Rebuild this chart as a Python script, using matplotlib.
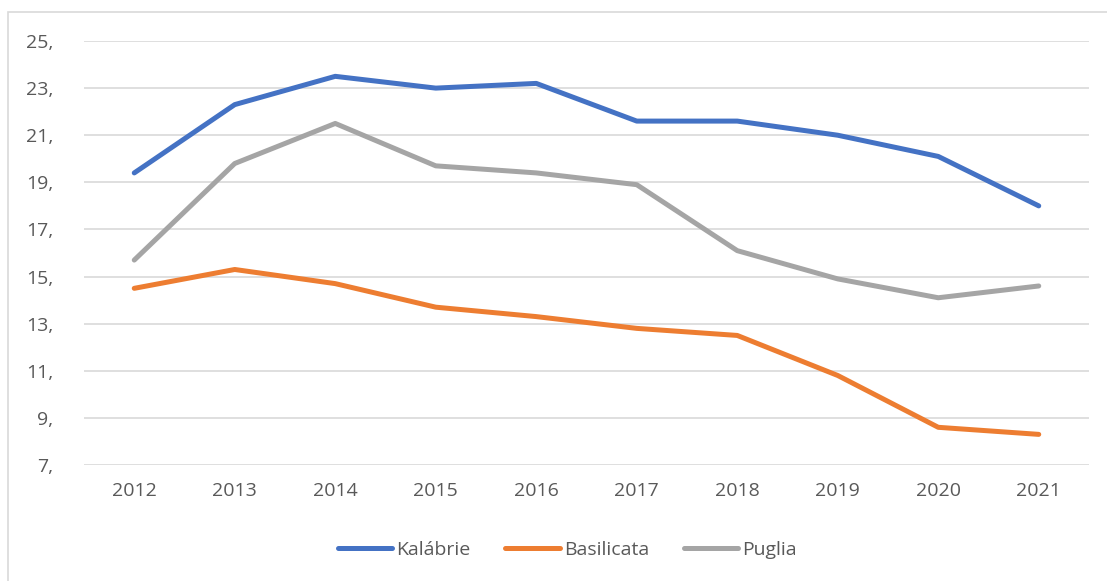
import matplotlib
matplotlib.use("agg")
import matplotlib.pyplot as plt
from matplotlib.patches import Rectangle

years = ['2012', '2013', '2014', '2015', '2016', '2017', '2018', '2019', '2020', '2021']
kalabrie = [19.4, 22.3, 23.5, 23.0, 23.2, 21.6, 21.6, 21.0, 20.1, 18.0]
basilicata = [14.5, 15.3, 14.7, 13.7, 13.3, 12.8, 12.5, 10.8, 8.6, 8.3]
puglia = [15.7, 19.8, 21.5, 19.7, 19.4, 18.9, 16.1, 14.9, 14.1, 14.6]
yticks = [7, 9, 11, 13, 15, 17, 19, 21, 23, 25]
ytick_labels = [str(v) + ',' for v in yticks]

plt.rcParams['font.family'] = ['Open Sans', 'DejaVu Sans']

fig = plt.figure(figsize=(11.07, 5.81), dpi=100)
# outer chart frame
fig.patches.append(Rectangle((8 / 1107, -0.1), 1.2, 1.1 - 12 / 581, transform=fig.transFigure,
                             fill=False, edgecolor='#d9d9d9', linewidth=1.2))

ax = fig.add_axes([84 / 1107, 1 - 465 / 581, (1089 - 84) / 1107, (465 - 41) / 581])
x = list(range(len(years)))
ax.plot(x, kalabrie, color='#4472C4', linewidth=3.6, label='Kalábrie', solid_capstyle='round')
ax.plot(x, basilicata, color='#ED7D31', linewidth=3.6, label='Basilicata', solid_capstyle='round')
ax.plot(x, puglia, color='#A5A5A5', linewidth=3.6, label='Puglia', solid_capstyle='round')

ax.set_xlim(-0.5, len(years) - 0.5)
ax.set_ylim(7, 25)
ax.set_yticks(yticks)
ax.set_yticklabels(ytick_labels)
ax.set_xticks(x)
ax.set_xticklabels(years)
ax.grid(axis='y', color='#d9d9d9', linewidth=1.2)
ax.set_axisbelow(True)
for s in ax.spines.values():
    s.set_visible(False)
ax.tick_params(axis='both', length=0, labelsize=14, labelcolor='#595959')
ax.tick_params(axis='y', pad=22)
ax.tick_params(axis='x', pad=12)

leg = ax.legend(loc='center', bbox_to_anchor=(0.481, -0.2), ncol=3, frameon=False,
                fontsize=14, handlelength=2.8, handletextpad=0.2, columnspacing=1.8)
for t in leg.get_texts():
    t.set_color('#595959')

fig.savefig('out.png', dpi=100)
